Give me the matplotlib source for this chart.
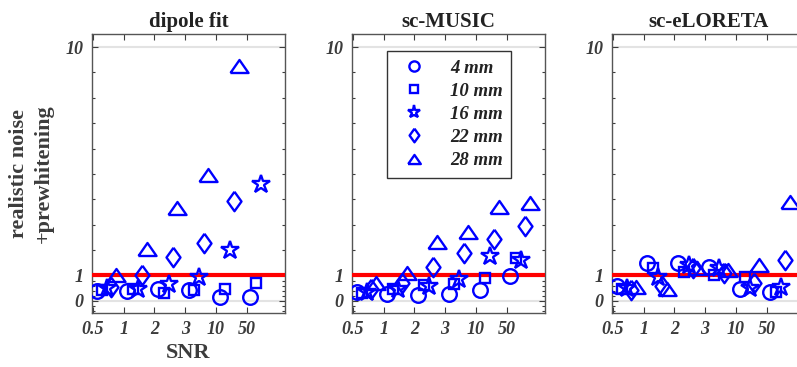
import numpy as np
import matplotlib
matplotlib.use('Agg')
import matplotlib.pyplot as plt
from matplotlib.ticker import FixedLocator

plt.rcParams['font.family'] = ['Liberation Serif', 'DejaVu Serif']

snr_labels = ['0.5', '1', '2', '3', '10', '50']
sizes = ['4 mm', '10 mm', '16 mm', '22 mm', '28 mm']

# rows: 4, 10, 16, 22, 28 mm ; columns: SNR levels
dipole_fit = [
    [0.40, 0.40, 0.47, 0.43, 0.16, 0.16],
    [0.43, 0.45, 0.32, 0.43, 0.47, 0.71],
    [0.50, 0.47, 0.67, 0.95, 2.00, 4.62],
    [0.55, 1.03, 1.74, 2.29, 3.95, np.nan],
    [1.00, 2.05, 3.67, 4.97, 9.25, np.nan],
]
sc_music = [
    [0.33, 0.28, 0.24, 0.28, 0.43, 0.99],
    [0.32, 0.47, 0.63, 0.67, 0.91, 1.70],
    [0.35, 0.47, 0.59, 0.87, 1.78, 1.62],
    [0.47, 0.71, 1.34, 1.90, 2.45, 2.96],
    [0.71, 1.10, 2.33, 2.73, 3.71, 3.87],
]
sc_eloreta = [
    [0.59, 1.50, 1.50, 1.34, 0.47, 0.36],
    [0.47, 1.30, 1.15, 1.03, 0.95, 0.36],
    [0.51, 0.95, 1.42, 1.30, 0.51, 0.55],
    [0.43, 0.59, 1.30, 1.10, 0.71, 1.62],
    [0.55, 0.47, 1.30, 1.22, 1.42, 3.91],
]
methods = ['dipole fit', 'sc-MUSIC', 'sc-eLORETA']

# wide triangle and squat diamond, closer to the classic shapes
tri = [(-1, -0.72), (1, -0.72), (0, 0.72), (-1, -0.72)]
dia = [(0, 1), (0.72, 0), (0, -1), (-0.72, 0), (0, 1)]
markers = ['o', 's', '*', dia, tri]
msizes = [10.5, 7.5, 13.5, 14, 13]
offsets = [0.12, 0.30, 0.46, 0.60, 0.75]

fig = plt.figure(figsize=(7.97, 3.67), dpi=100)
lefts = [0.1151, 0.4413, 0.7675]
axes = [fig.add_axes([l, 0.1471, 0.2425, 0.7594]) for l in lefts]

dark = '#3c3c3c'
tick_font = dict(fontsize=13, fontweight='bold', fontstyle='italic', color=dark)
x = np.arange(1, len(snr_labels) + 1)

for ax, name, data in zip(axes, methods, [dipole_fit, sc_music, sc_eloreta]):
    ax.axhline(1, color='red', lw=3, zorder=3)
    for k in range(len(sizes)):
        ax.plot(x + offsets[k], data[k], linestyle='none', marker=markers[k],
                ms=msizes[k], mec='blue', mfc='none', mew=1.7,
                label=sizes[k], zorder=4)
    ax.set_xlim(0.96, 7.25)
    ax.set_ylim(-0.48, 10.5)
    ax.set_xticks(x)
    ax.set_xticklabels(snr_labels, **tick_font)
    ax.set_yticks([0, 1, 10])
    ax.set_yticklabels(['0', '1', '10'], **tick_font)
    ax.yaxis.set_minor_locator(FixedLocator(
        [-0.4, -0.2, 0.2, 0.4, 0.6, 0.8] + list(range(2, 10))))
    ax.tick_params(which='both', direction='in', top=True, right=True,
                   colors=dark, width=0.8)
    ax.tick_params(which='major', length=4, pad=6)
    ax.tick_params(which='minor', length=2.5)
    ax.grid(axis='y', which='major', color='#e3e3e3', lw=1.5, zorder=0)
    ax.set_axisbelow(True)
    for sp in ax.spines.values():
        sp.set_color('#555555')
        sp.set_linewidth(1.0)
    ax.set_title(name, fontsize=15, fontweight='bold', color='#222222', pad=5)

axes[0].set_xlabel('SNR', fontsize=16, fontweight='bold', color=dark, labelpad=3)
axes[0].set_ylabel('realistic noise\n+prewhitening', fontsize=16,
                   fontweight='bold', color=dark, linespacing=1.35, labelpad=8)

leg = axes[1].legend(loc='upper left', bbox_to_anchor=(0.183, 0.94),
                     borderaxespad=0, markerscale=0.7, frameon=True,
                     fancybox=False, edgecolor='black', handletextpad=0.9,
                     labelspacing=0.32, borderpad=0.45, handlelength=2.0,
                     prop=dict(family='Liberation Serif', size=13.5,
                               weight='bold', style='italic'))
leg.get_frame().set_linewidth(1.0)
for t in leg.get_texts():
    t.set_color('#222222')

fig.savefig('out.png', dpi=100)
